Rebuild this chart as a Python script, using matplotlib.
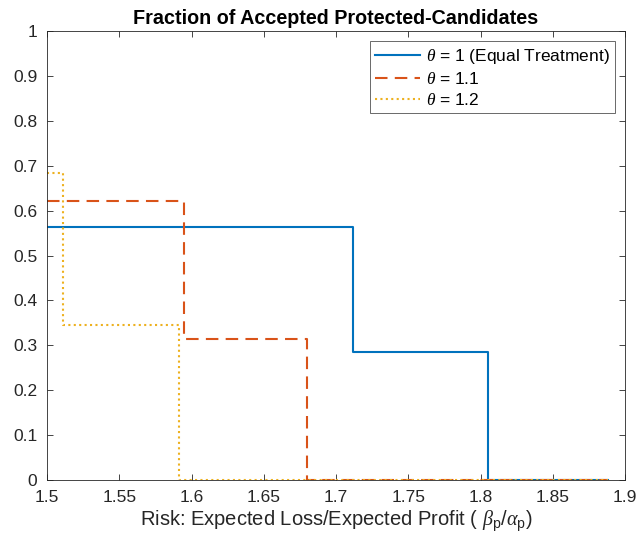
import matplotlib
matplotlib.use("Agg")
import matplotlib.pyplot as plt

plt.rcParams['font.family'] = ['Liberation Sans', 'DejaVu Sans']
plt.rcParams['mathtext.fontset'] = 'custom'
plt.rcParams['mathtext.it'] = 'Liberation Serif:italic'
plt.rcParams['mathtext.rm'] = 'Liberation Sans'

# step breakpoints (risk) and accepted fractions
x_eq = [1.5, 1.712, 1.805, 1.888]
y_eq = [0.563, 0.284, 0.0, 0.0]
x_11 = [1.5, 1.595, 1.680, 1.888]
y_11 = [0.622, 0.314, 0.0, 0.0]
x_12 = [1.5, 1.511, 1.591, 1.888]
y_12 = [0.683, 0.345, 0.0, 0.0]
labels = [r'$\theta$ = 1 (Equal Treatment)', r'$\theta$ = 1.1', r'$\theta$ = 1.2']

fig = plt.figure(figsize=(6.38, 5.5), dpi=100)
ax = fig.add_axes([0.0737, 0.1273, 0.906, 0.8163])

ax.step(x_eq, y_eq, where='post', color='#0072BD', lw=1.5, label=labels[0])
ax.step(x_11, y_11, where='post', color='#D95319', lw=1.5, ls=(0, (6, 3.5)), label=labels[1])
ax.step(x_12, y_12, where='post', color='#EDB120', lw=1.5, ls=(0, (1, 1.6)), label=labels[2])

ax.set_xlim(1.5, 1.9)
ax.set_ylim(0, 1)
ax.set_xticks([1.5, 1.55, 1.6, 1.65, 1.7, 1.75, 1.8, 1.85, 1.9])
ax.set_xticklabels(['1.5', '1.55', '1.6', '1.65', '1.7', '1.75', '1.8', '1.85', '1.9'])
ax.set_yticks([0, 0.1, 0.2, 0.3, 0.4, 0.5, 0.6, 0.7, 0.8, 0.9, 1])
ax.set_yticklabels(['0', '0.1', '0.2', '0.3', '0.4', '0.5', '0.6', '0.7', '0.8', '0.9', '1'])
ax.tick_params(direction='in', top=True, right=True, labelsize=12.5, colors='#262626', length=4, width=0.6, pad=7)
for s in ax.spines.values():
    s.set_color('#262626')
    s.set_linewidth(0.6)

ax.set_title('Fraction of Accepted Protected-Candidates', fontsize=14.2, fontweight='bold', pad=5)
ax.set_xlabel(r'Risk: Expected Loss/Expected Profit ( $\beta_{\mathrm{p}}/\alpha_{\mathrm{p}}$)', fontsize=14.5, color='#262626', labelpad=3)

leg = ax.legend(loc='upper right', fontsize=12.5, frameon=True, fancybox=False,
                edgecolor='#262626', handlelength=2.6, handletextpad=0.3,
                borderaxespad=0.6, labelspacing=0.3, borderpad=0.3)
leg.get_frame().set_linewidth(0.6)

fig.savefig('out.png', dpi=100)
